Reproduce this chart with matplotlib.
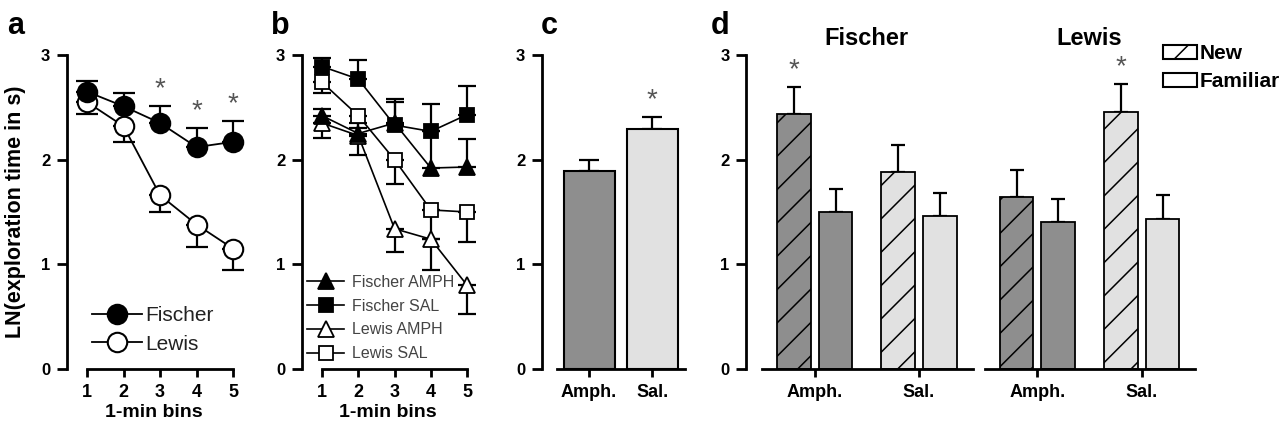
import numpy as np
import matplotlib
matplotlib.use('Agg')
import matplotlib.pyplot as plt
import matplotlib.transforms as mtransforms
from matplotlib.patches import Patch

plt.rcParams['font.family'] = ['Liberation Sans', 'DejaVu Sans']
plt.rcParams['font.weight'] = 'bold'
plt.rcParams['hatch.linewidth'] = 1.1

# ---- panel a: strain x time ----
bins = [1, 2, 3, 4, 5]
fischer_mean = [2.65, 2.51, 2.35, 2.12, 2.17]
fischer_err = [0.10, 0.13, 0.16, 0.18, 0.20]
lewis_mean = [2.55, 2.32, 1.66, 1.38, 1.15]
lewis_err = [0.11, 0.15, 0.16, 0.21, 0.20]
sig_a = [False, False, True, True, True]

# ---- panel b: strain x drug x time ----
fischer_amph = [2.42, 2.25, 2.35, 1.92, 1.93]
fischer_amph_err = [0.06, 0.10, 0.20, 0.35, 0.27]
fischer_sal = [2.89, 2.77, 2.33, 2.27, 2.43]
fischer_sal_err = [0.08, 0.18, 0.25, 0.26, 0.27]
lewis_amph = [2.35, 2.23, 1.34, 1.24, 0.80]
lewis_amph_err = [0.14, 0.19, 0.22, 0.29, 0.27]
lewis_sal = [2.74, 2.42, 2.00, 1.52, 1.50]
lewis_sal_err = [0.10, 0.12, 0.23, 0.28, 0.29]

# ---- panel c: drug ----
drugs = ['Amph.', 'Sal.']
drug_mean = [1.89, 2.29]
drug_err = [0.11, 0.12]
sig_c = [False, True]

# ---- panel d: strain x drug x object ----
strains = ['Fischer', 'Lewis']
new_mean = [[2.44, 1.88], [1.64, 2.46]]
new_err = [[0.25, 0.26], [0.26, 0.26]]
fam_mean = [[1.50, 1.46], [1.40, 1.43]]
fam_err = [[0.22, 0.22], [0.22, 0.23]]
sig_new = [[True, False], [False, True]]

drug_colors = ['#8e8e8e', '#e1e1e1']
star_color = '#555555'
STAR_OFF = 0.16

fig = plt.figure(figsize=(12.82, 4.33), dpi=100)
W, H = 1282, 433
bot = 1 - 369 / H
hgt = 314 / H


def add_axes(left_px, width_px):
    return fig.add_axes([left_px / W, bot, width_px / W, hgt])


def style(ax, xlim, xbounds, yaxis=True):
    ax.set_ylim(0, 3)
    ax.set_yticks([0, 1, 2, 3])
    ax.set_xlim(*xlim)
    ax.patch.set_visible(False)
    for s in ['top', 'right']:
        ax.spines[s].set_visible(False)
    ax.spines['left'].set_bounds(0, 3)
    ax.spines['bottom'].set_bounds(*xbounds)
    ax.spines['left'].set_linewidth(2)
    ax.spines['bottom'].set_linewidth(2)
    ax.tick_params(axis='y', direction='out', length=7, width=2, pad=5, labelsize=12)
    ax.tick_params(axis='x', direction='out', length=6, width=2, pad=5, labelsize=13)
    if not yaxis:
        ax.spines['left'].set_visible(False)
        ax.tick_params(axis='y', left=False, labelleft=False)


def one_sided(ax, x, y, err, up=True, cap=8, z=2):
    zeros = np.zeros(len(err))
    yerr = [zeros, err] if up else [err, zeros]
    ax.errorbar(x, y, yerr=yerr, fmt='none', ecolor='black', elinewidth=1.6,
                capsize=cap, capthick=1.6, zorder=z, clip_on=False)


def stars(ax, x, tops, flags):
    for xi, t, f in zip(x, tops, flags):
        if f:
            ax.text(xi, t + STAR_OFF, '*', ha='center', va='center',
                    fontsize=20, color=star_color, fontweight='normal')


# panel a
ax_a = add_axes(67, 173)
style(ax_a, (0.452, 5.19), (1, 5))
one_sided(ax_a, bins, fischer_mean, fischer_err, up=True)
one_sided(ax_a, bins, lewis_mean, lewis_err, up=False)
ax_a.plot(bins, fischer_mean, '-o', color='black', mfc='black', mec='black', ms=14,
          mew=1.5, lw=1.3, label='Fischer', zorder=4, clip_on=False)
ax_a.plot(bins, lewis_mean, '-o', color='black', mfc='white', mec='black', ms=14,
          mew=1.5, lw=1.3, label='Lewis', zorder=3, clip_on=False)
stars(ax_a, bins, np.add(fischer_mean, fischer_err), sig_a)
ax_a.set_xticks(bins)
ax_a.set_xlabel('1-min bins', fontsize=14, fontweight='bold', labelpad=2)
ax_a.legend(loc='upper left', bbox_to_anchor=(1.14, 0.60), bbox_transform=ax_a.transData,
            frameon=False, prop={'size': 15, 'weight': 'normal'}, handlelength=2.4,
            handletextpad=0.15, labelspacing=0.45, borderpad=0, borderaxespad=0,
            labelcolor='#222222')

# panel b
ax_b = add_axes(302, 172)
style(ax_b, (0.448, 5.19), (1, 5))
b_series = [
    ('Fischer AMPH', fischer_amph, fischer_amph_err, '^', 'black', True, 11),
    ('Fischer SAL', fischer_sal, fischer_sal_err, 's', 'black', True, 10),
    ('Lewis AMPH', lewis_amph, lewis_amph_err, '^', 'white', False, 11),
    ('Lewis SAL', lewis_sal, lewis_sal_err, 's', 'white', False, 10),
]
for name, m, e, mk, fc, up, ms in b_series:
    one_sided(ax_b, bins, m, e, up=up, cap=6.5)
    ax_b.plot(bins, m, '-', marker=mk, color='black', mfc=fc, mec='black', ms=ms,
              mew=1.3, lw=1.2, label=name, zorder=4 if fc == 'black' else 3, clip_on=False)
ax_b.set_xticks(bins)
ax_b.set_xlabel('1-min bins', fontsize=14, fontweight='bold', labelpad=2)
ax_b.legend(loc='upper left', bbox_to_anchor=(0.59, 0.90), bbox_transform=ax_b.transData,
            frameon=False, prop={'size': 11.5, 'weight': 'normal'}, handlelength=2.3,
            handletextpad=0.5, labelspacing=0.55, borderpad=0, borderaxespad=0,
            labelcolor='#444444')

# panel c
ax_c = add_axes(542, 148)
style(ax_c, (-0.746, 1.6), (-0.508, 1.524))
xc = np.arange(len(drugs))
ax_c.bar(xc, drug_mean, 0.81, color=drug_colors, edgecolor='black', linewidth=1.5, zorder=2)
one_sided(ax_c, xc, drug_mean, drug_err, up=True, cap=7, z=1)
stars(ax_c, xc, np.add(drug_mean, drug_err), sig_c)
ax_c.set_xticks(xc, drugs)

# panel d: one axes per strain, 1 x-unit = 104.3 px
unit = 104.3
d_left = -0.656
d_right = 1.6
offs = 0.2
bw = 0.322
for i, strain in enumerate(strains):
    ax_d = add_axes(746.3 + i * 222.7, (d_right - d_left) * unit)
    style(ax_d, (d_left, d_right), (-0.505, 1.515), yaxis=(i == 0))
    xd = np.arange(len(drugs))
    ax_d.bar(xd - offs, new_mean[i], bw, color=drug_colors, edgecolor='black',
             linewidth=1.3, hatch='/', zorder=2)
    ax_d.bar(xd + offs, fam_mean[i], bw, color=drug_colors, edgecolor='black',
             linewidth=1.3, zorder=2)
    one_sided(ax_d, xd - offs, new_mean[i], new_err[i], up=True, cap=5, z=1)
    one_sided(ax_d, xd + offs, fam_mean[i], fam_err[i], up=True, cap=5, z=1)
    stars(ax_d, xd - offs, np.add(new_mean[i], new_err[i]), sig_new[i])
    ax_d.set_xticks(xd, drugs)
    trans = mtransforms.blended_transform_factory(ax_d.transData, ax_d.transAxes)
    ax_d.text(0.5, 1.032, strain, transform=trans, ha='center', va='baseline',
              fontsize=17, fontweight='bold')

fig.legend([Patch(facecolor='white', edgecolor='black', hatch='/', lw=1.5),
            Patch(facecolor='white', edgecolor='black', lw=1.5)],
           ['New', 'Familiar'], loc='upper left', bbox_to_anchor=(1163 / W, 1 - 44 / H),
           frameon=False, prop={'size': 15, 'weight': 'bold'}, handlelength=1.63,
           handleheight=0.67, handletextpad=0.15, labelspacing=0.45, borderpad=0,
           borderaxespad=0)

fig.text(16 / W, 1 - 212 / H, 'LN(exploration time in s)', rotation=90, ha='center',
         va='center', fontsize=15.5, fontweight='bold')
for lab, xp in [('a', 7), ('b', 271), ('c', 541), ('d', 711)]:
    fig.text(xp / W, 1 - 34 / H, lab, fontsize=22, fontweight='bold', va='baseline')

fig.savefig('out.png', dpi=100)
